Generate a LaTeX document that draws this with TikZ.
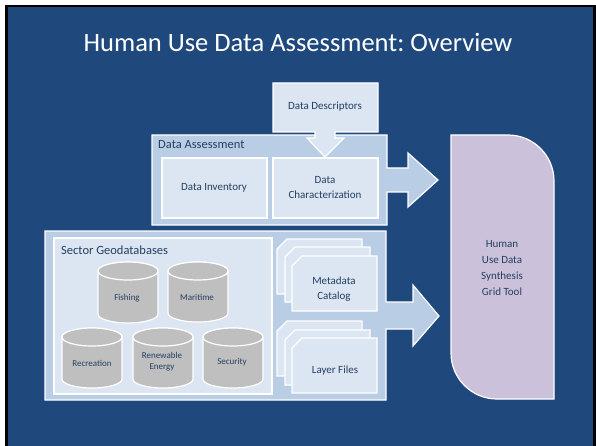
\documentclass[tikz,border=0pt]{standalone}
\usepackage{fontspec}
\setmainfont{Carlito}
\frenchspacing
\definecolor{bg}{HTML}{1F497D}
\definecolor{panel}{HTML}{B9CDE5}
\definecolor{boxc}{HTML}{DCE6F2}
\definecolor{cylc}{HTML}{BFBFBF}
\definecolor{lav}{HTML}{CCC1DA}
\definecolor{txt}{HTML}{243F60}
\newcommand\cylshape[4]{%
  \path[shp, fill=cylc] (#1,#2+9) -- (#1,#4-9)
    arc[start angle=180, end angle=0, x radius=30, y radius=9]
    -- (#3,#2+9)
    arc[start angle=0, end angle=-180, x radius=30, y radius=9] -- cycle;
  \draw[shp, fill=cylc] ({(#1+#3)/2},#2+9) ellipse[x radius=30, y radius=9];}
\newcommand\sheetshape[4]{%
  \path[shp, fill=boxc] (#1+10,#2) -- (#3,#2) -- (#3,#4) -- (#1,#4) -- (#1,#2+10) -- cycle;}
\begin{document}
\begin{tikzpicture}[x=1pt, y=-1pt,
  shp/.style={draw=white, line width=1.2pt, line join=miter},
  lbl/.style={text=txt, font=\fontsize{11}{15}\selectfont, align=center, inner sep=0pt},
  cyltxt/.style={text=txt, font=\fontsize{9}{11}\selectfont, align=center, inner sep=0pt},
  head/.style={text=txt, font=\fontsize{12.5}{15}\selectfont, anchor=base west, inner sep=0pt},
  titletxt/.style={text=white, font=\fontsize{26.5}{32}\selectfont, anchor=base, inner sep=0pt}]
\useasboundingbox (0,0) rectangle (596,446);
\fill[white] (0,0) rectangle (596,446);
\fill[black] (5,5) rectangle (596,446);
\fill[bg] (8,7) rectangle (593,446);

\node[titletxt] (title) at (298,52) {Human Use Data Assessment: Overview};

% Data Assessment panel with arrow
\path[shp, fill=panel] (152,135) -- (387,135) -- (387,168) -- (408,168) -- (408,153)
  -- (438,180) -- (408,207) -- (408,192) -- (387,192) -- (387,225) -- (152,225) -- cycle;
\node[head] (da) at (158,149) {Data Assessment};
\path[shp, fill=boxc] (162,158) rectangle (267,218);
\path[shp, fill=boxc] (273,158) rectangle (378,218);
\node[lbl] (di) at (214,188) {Data Inventory};
\node[lbl] (dc) at (325,188) {Data\\Characterization};

% Data Descriptors box with down arrow
\path[shp, fill=boxc] (273,83) -- (378,83) -- (378,132) -- (335,132) -- (335,138) -- (344,138)
  -- (325,157) -- (307,138) -- (315,138) -- (315,132) -- (273,132) -- cycle;
\node[lbl] (dd) at (325,107) {Data Descriptors};

% Lower panel with arrow
\path[shp, fill=panel] (45,231) -- (386,231) -- (386,302) -- (413,302) -- (413,285)
  -- (439,316) -- (413,346) -- (413,329) -- (386,329) -- (386,400) -- (45,400) -- cycle;
\path[shp, fill=boxc] (54,238) rectangle (272,394);
\node[head] (sg) at (61,254) {Sector Geodatabases};

\cylshape{98}{262}{158}{323}
\cylshape{168}{262}{228}{322}
\cylshape{62}{328}{122}{388}
\cylshape{133}{328}{193}{388}
\cylshape{203}{328}{263}{388}
\node[cyltxt] (fish) at (127,298) {Fishing};
\node[cyltxt] (mari) at (197,297) {Maritime};
\node[cyltxt] (recr) at (92,363) {Recreation};
\node[cyltxt] (rene) at (162,362) {Renewable\\Energy};
\node[cyltxt] (secu) at (232,362) {Security};

\sheetshape{277}{239}{362}{294}
\sheetshape{285}{247}{370}{302}
\sheetshape{292}{256}{377}{311}
\node[lbl] (mc) at (334,289) {Metadata\\Catalog};

\sheetshape{277}{321}{362}{376}
\sheetshape{285}{330}{370}{385}
\sheetshape{292}{338}{377}{393}
\node[lbl] (lf) at (335,371) {Layer Files};

% Human Use Data Synthesis Grid Tool
\path[shp, fill=lav] (451,135) -- (508,135)
  .. controls (533.4,135) and (554,155.6) .. (554,181)
  -- (554,399) -- (497,399)
  .. controls (471.6,399) and (451,378.4) .. (451,353) -- cycle;
\node[lbl, font=\fontsize{11}{16}\selectfont] (hu) at (502,268) {Human\\Use Data\\Synthesis\\Grid Tool};
\end{tikzpicture}
\end{document}
